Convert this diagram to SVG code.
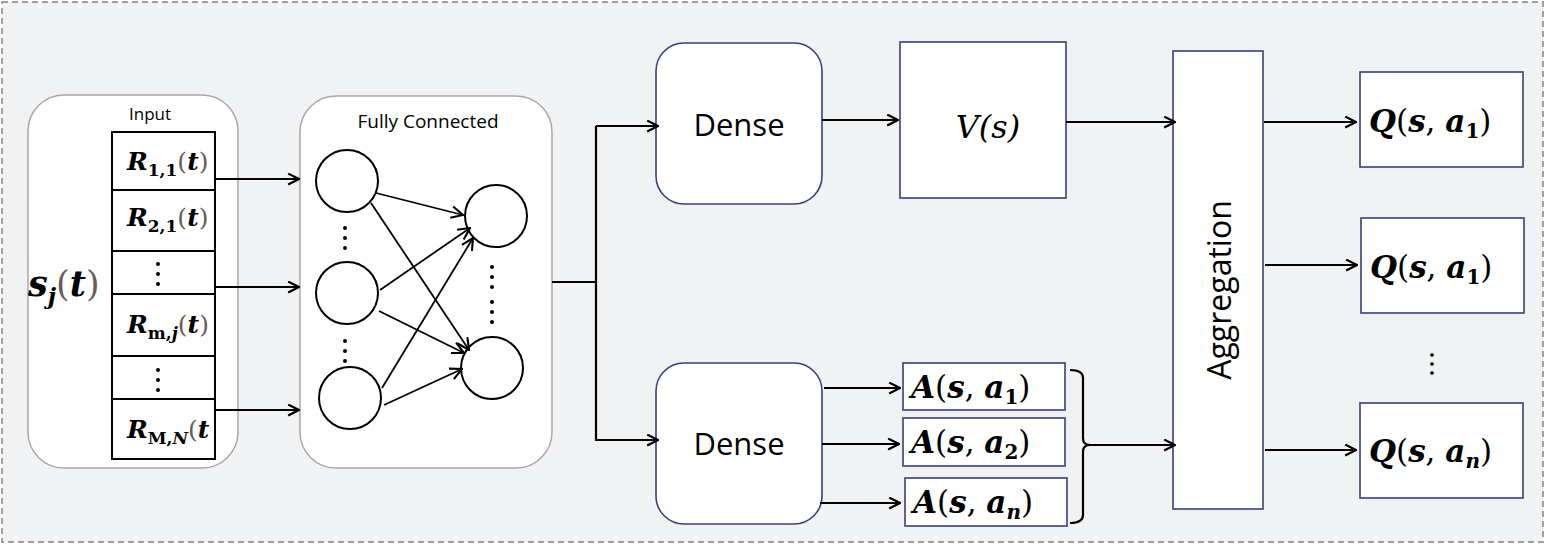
<svg xmlns="http://www.w3.org/2000/svg" width="1546" height="545" viewBox="0 0 1546 545">
<style>
.bg{fill:#f1f2f4;stroke:#a0a0a0;stroke-width:2;stroke-dasharray:6 4}
.rgray{fill:#fff;stroke:#a8a8a8;stroke-width:1.5}
.blue{fill:#fff;stroke:#3a3f78;stroke-width:1.6}
.cell{fill:#fff;stroke:#000;stroke-width:2}
.circ{fill:#fff;stroke:#000;stroke-width:2}
.ln{fill:none;stroke:#000;stroke-width:2.2}
.thin{fill:none;stroke:#000;stroke-width:1.8}
.sans{font-family:"Open Sans","Noto Sans","Liberation Sans",sans-serif;fill:#000}
.math{font-family:"DejaVu Serif","Liberation Serif",serif;fill:#000}
.bi{font-weight:bold;font-style:italic}
.b{font-weight:bold}
.par{fill:#6a5a5a}
.dot{fill:#000}
</style>
<defs>
<marker id="ar" viewBox="0 0 12 12" refX="11" refY="6" markerWidth="13" markerHeight="13" markerUnits="userSpaceOnUse" orient="auto">
<path d="M1,1 L11,6 L1,11" fill="none" stroke="#000" stroke-width="2"/>
</marker>
<marker id="ar2" viewBox="0 0 12 12" refX="11" refY="6" markerWidth="14" markerHeight="14" markerUnits="userSpaceOnUse" orient="auto">
<path d="M1,1 L11,6 L1,11" fill="none" stroke="#000" stroke-width="1.8"/>
</marker>
</defs>
<rect class="bg" x="2" y="2" width="1541" height="540"/>

<g id="input">
<rect class="rgray" x="28" y="95" width="210" height="373" rx="36"/>
<text class="sans" x="150" y="120" font-size="17" text-anchor="middle">Input</text>
<text class="math" x="28" y="296" font-size="35"><tspan class="bi">s</tspan><tspan class="bi" font-size="23" dy="8">j</tspan><tspan class="par" dy="-8">(</tspan><tspan class="bi">t</tspan><tspan class="par">)</tspan></text>
<rect class="cell" x="112" y="132" width="103" height="327"/>
<line class="cell" x1="112" y1="190" x2="215" y2="190"/>
<line class="cell" x1="112" y1="251" x2="215" y2="251"/>
<line class="cell" x1="112" y1="294" x2="215" y2="294"/>
<line class="cell" x1="112" y1="356" x2="215" y2="356"/>
<line class="cell" x1="112" y1="399" x2="215" y2="399"/>
<text class="math" x="127" y="170" font-size="25"><tspan class="bi">R</tspan><tspan class="b" font-size="17" dy="6">1,1</tspan><tspan class="par" dy="-6">(</tspan><tspan class="bi">t</tspan><tspan class="par">)</tspan></text>
<text class="math" x="127" y="226" font-size="25"><tspan class="bi">R</tspan><tspan class="b" font-size="17" dy="6">2,1</tspan><tspan class="par" dy="-6">(</tspan><tspan class="bi">t</tspan><tspan class="par">)</tspan></text>
<text class="math" x="127" y="333" font-size="25"><tspan class="bi">R</tspan><tspan class="b" font-size="17" dy="6">m,</tspan><tspan class="bi" font-size="17">j</tspan><tspan class="par" dy="-6">(</tspan><tspan class="bi">t</tspan><tspan class="par">)</tspan></text>
<text class="math" x="127" y="438" font-size="25"><tspan class="bi">R</tspan><tspan class="b" font-size="17" dy="6">M,</tspan><tspan class="bi" font-size="17">N</tspan><tspan class="par" dy="-6">(</tspan><tspan class="bi">t</tspan></text>
<circle class="dot" cx="158" cy="264" r="2"/><circle class="dot" cx="158" cy="274" r="2"/><circle class="dot" cx="158" cy="284" r="2"/>
<circle class="dot" cx="158" cy="370" r="2"/><circle class="dot" cx="158" cy="380" r="2"/><circle class="dot" cx="158" cy="390" r="2"/>
</g>

<g id="fully-connected">
<rect class="rgray" x="300" y="96" width="252" height="372" rx="36"/>
<text class="sans" x="428" y="128" font-size="19" text-anchor="middle">Fully Connected</text>
<circle class="circ" cx="347" cy="181" r="31"/>
<circle class="circ" cx="347" cy="293" r="31"/>
<circle class="circ" cx="350" cy="398" r="31"/>
<circle class="circ" cx="496" cy="216" r="31"/>
<circle class="circ" cx="492" cy="368" r="31"/>
<circle class="dot" cx="345" cy="228" r="2"/><circle class="dot" cx="345" cy="238" r="2"/><circle class="dot" cx="345" cy="248" r="2"/>
<circle class="dot" cx="345" cy="341" r="2"/><circle class="dot" cx="345" cy="351" r="2"/><circle class="dot" cx="345" cy="361" r="2"/>
<circle class="dot" cx="492" cy="267" r="2"/><circle class="dot" cx="492" cy="277" r="2"/><circle class="dot" cx="492" cy="287" r="2"/>
<circle class="dot" cx="492" cy="302" r="2"/><circle class="dot" cx="492" cy="312" r="2"/><circle class="dot" cx="492" cy="322" r="2"/>
<g class="thin">
<line x1="376" y1="193" x2="463" y2="215" marker-end="url(#ar2)"/>
<line x1="371" y1="203" x2="469" y2="350" marker-end="url(#ar2)"/>
<line x1="380" y1="290" x2="470" y2="228" marker-end="url(#ar2)"/>
<line x1="379" y1="311" x2="464" y2="353" marker-end="url(#ar2)"/>
<line x1="382" y1="388" x2="473" y2="238" marker-end="url(#ar2)"/>
<line x1="384" y1="405" x2="462" y2="369" marker-end="url(#ar2)"/>
</g>
</g>

<g id="dense-top">
<rect class="blue" x="656" y="43" width="166" height="161" rx="28"/>
<text class="sans" x="739" y="136" font-size="31" text-anchor="middle">Dense</text>
</g>
<g id="dense-bottom">
<rect class="blue" x="656" y="363" width="166" height="161" rx="28"/>
<text class="sans" x="739" y="455" font-size="31" text-anchor="middle">Dense</text>
</g>
<g id="value">
<rect class="blue" x="900" y="42" width="166" height="156"/>
<text class="math" x="988" y="138" font-size="32" font-style="italic" text-anchor="middle">V(s)</text>
</g>
<g id="adv-1">
<rect class="blue" x="903" y="363" width="162" height="47"/>
<text class="math" x="911" y="398" font-size="31"><tspan class="bi">A</tspan><tspan>(</tspan><tspan class="bi">s</tspan><tspan>, </tspan><tspan class="bi">a</tspan><tspan class="b" font-size="20" dy="6">1</tspan><tspan dy="-6">)</tspan></text>
</g>
<g id="adv-2">
<rect class="blue" x="903" y="418" width="162" height="48"/>
<text class="math" x="911" y="453" font-size="31"><tspan class="bi">A</tspan><tspan>(</tspan><tspan class="bi">s</tspan><tspan>, </tspan><tspan class="bi">a</tspan><tspan class="b" font-size="20" dy="6">2</tspan><tspan dy="-6">)</tspan></text>
</g>
<g id="adv-n">
<rect class="blue" x="905" y="478" width="162" height="48"/>
<text class="math" x="913" y="513" font-size="31"><tspan class="bi">A</tspan><tspan>(</tspan><tspan class="bi">s</tspan><tspan>, </tspan><tspan class="bi">a</tspan><tspan class="bi" font-size="20" dy="6">n</tspan><tspan dy="-6">)</tspan></text>
</g>
<g id="aggregation">
<rect class="blue" x="1173" y="51" width="90" height="458"/>
<text class="sans" x="0" y="0" font-size="32" text-anchor="middle" transform="translate(1231,290) rotate(-90)">Aggregation</text>
</g>
<g id="q-1">
<rect class="blue" x="1360" y="72" width="163" height="95"/>
<text class="math" x="1369" y="132" font-size="31"><tspan class="bi">Q</tspan><tspan>(</tspan><tspan class="bi">s</tspan><tspan>, </tspan><tspan class="bi">a</tspan><tspan class="b" font-size="20" dy="6">1</tspan><tspan dy="-6">)</tspan></text>
</g>
<g id="q-2">
<rect class="blue" x="1361" y="218" width="163" height="95"/>
<text class="math" x="1370" y="278" font-size="31"><tspan class="bi">Q</tspan><tspan>(</tspan><tspan class="bi">s</tspan><tspan>, </tspan><tspan class="bi">a</tspan><tspan class="b" font-size="20" dy="6">1</tspan><tspan dy="-6">)</tspan></text>
</g>
<g id="q-n">
<rect class="blue" x="1360" y="403" width="163" height="95"/>
<text class="math" x="1369" y="462" font-size="31"><tspan class="bi">Q</tspan><tspan>(</tspan><tspan class="bi">s</tspan><tspan>, </tspan><tspan class="bi">a</tspan><tspan class="bi" font-size="20" dy="6">n</tspan><tspan dy="-6">)</tspan></text>
</g>
<g id="q-dots">
<circle class="dot" cx="1432" cy="355" r="1.8"/><circle class="dot" cx="1432" cy="364" r="1.8"/><circle class="dot" cx="1432" cy="373" r="1.8"/>
</g>

<g id="connectors" class="ln">
<line x1="215" y1="179" x2="299" y2="179" marker-end="url(#ar)"/>
<line x1="215" y1="287" x2="299" y2="287" marker-end="url(#ar)"/>
<line x1="215" y1="410" x2="299" y2="410" marker-end="url(#ar)"/>
<polyline points="552,282 596,282"/>
<polyline points="596,126 596,440 658,440" marker-end="url(#ar)"/>
<line x1="596" y1="126" x2="658" y2="126" marker-end="url(#ar)"/>
<line x1="822" y1="120" x2="898" y2="120" marker-end="url(#ar)"/>
<line x1="1066" y1="122" x2="1175" y2="122" marker-end="url(#ar)"/>
<line x1="824" y1="388" x2="900" y2="388" marker-end="url(#ar)"/>
<line x1="822" y1="444" x2="899" y2="444" marker-end="url(#ar)"/>
<line x1="820" y1="503" x2="900" y2="503" marker-end="url(#ar)"/>
<path d="M1070,370 Q1083,370 1083,378 L1083,438 Q1083,445 1090,445 Q1083,445 1083,452 L1083,515 Q1083,523 1070,523"/>
<line x1="1090" y1="445" x2="1175" y2="445" marker-end="url(#ar)"/>
<line x1="1264" y1="122" x2="1356" y2="122" marker-end="url(#ar)"/>
<line x1="1265" y1="265" x2="1357" y2="265" marker-end="url(#ar)"/>
<line x1="1265" y1="450" x2="1356" y2="450" marker-end="url(#ar)"/>
</g>
</svg>
